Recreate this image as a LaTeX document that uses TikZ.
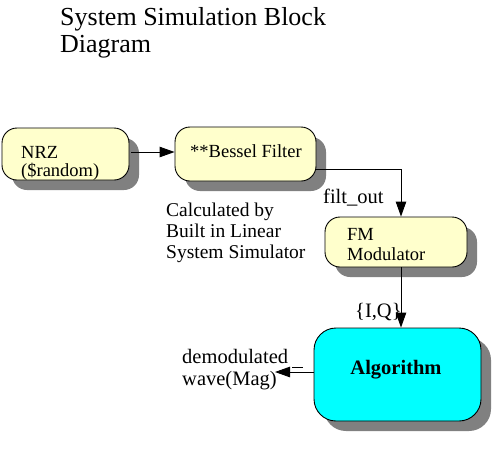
\documentclass[tikz,border=0pt]{standalone}
\usepackage{fontspec}
\setmainfont{Liberation Serif}
\newfontfamily\tms{Liberation Serif}
\usetikzlibrary{arrows.meta,shadows}
\definecolor{boxyellow}{RGB}{255,255,204}
\definecolor{boxcyan}{RGB}{0,255,255}
\definecolor{shadowgray}{RGB}{128,128,128}
\begin{document}
\begin{tikzpicture}[x=1pt,y=-1pt,
  shad/.style={drop shadow={shadow xshift=10pt,shadow yshift=-10pt,fill=shadowgray,opacity=1}},
  blk/.style={draw=black,line width=0.9pt,rounded corners=15pt,fill=boxyellow,shad,inner sep=0pt},
  algblk/.style={draw=black,line width=0.9pt,rounded corners=22pt,fill=boxcyan,shad,inner sep=0pt},
  txt/.style={anchor=base west,inner sep=0pt,font=\tms\fontsize{18.5}{20}\selectfont},
  lbl/.style={anchor=base west,inner sep=0pt,font=\tms\fontsize{20.5}{21}\selectfont},
  arr/.style={draw=black,line width=0.9pt,-{Triangle[length=15pt,width=10.5pt]}},
  conn/.style={draw=black,line width=0.9pt}]
\useasboundingbox (0,0) rectangle (497,475);
% title
\node[anchor=base west,inner sep=0pt,font=\tms\fontsize{26}{27}\selectfont] (t1) at (60,25) {System Simulation Block};
\node[anchor=base west,inner sep=0pt,font=\tms\fontsize{26}{27}\selectfont] (t2) at (60,52) {Diagram};
% boxes
\node[blk,minimum width=127pt,minimum height=52pt] (nrz) at (65.5,154) {};
\node[blk,minimum width=141pt,minimum height=54pt] (bessel) at (245.5,154) {};
\node[blk,minimum width=142pt,minimum height=50pt] (fm) at (396,242) {};
\node[algblk,minimum width=167pt,minimum height=93pt] (alg) at (397.5,374.5) {};
% box texts
\node[txt] (nrzA) at (21,158) {NRZ};
\node[txt] (nrzB) at (21,176) {(\$random)};
\node[txt] (bes) at (190,157) {**Bessel Filter};
\node[txt] (fmA) at (347,240) {FM};
\node[txt] (fmB) at (347,260) {Modulator};
\node[anchor=base,inner sep=0pt,font=\tms\fontsize{20.5}{21}\selectfont\bfseries] (algt) at (396,374) {Algorithm};
% labels
\node[anchor=base west,inner sep=0pt,font=\tms\fontsize{19.5}{21}\selectfont] (c1) at (166,216) {Calculated by};
\node[anchor=base west,inner sep=0pt,font=\tms\fontsize{19.5}{21}\selectfont] (c2) at (166,237) {Built in Linear};
\node[anchor=base west,inner sep=0pt,font=\tms\fontsize{19.5}{21}\selectfont] (c3) at (166,258) {System Simulator};
\node[lbl] (filt) at (323,203) {filt\_out};
\node[lbl] (iq) at (355,317) {\{I,Q\}};
\node[lbl] (dm1) at (182,363) {demodulated};
\node[lbl] (dm2) at (182,385) {wave(Mag)};
% connectors
\draw[arr] ([xshift=2pt,yshift=2pt]nrz.east) -- ([yshift=2pt]bessel.west);
\draw[arr] ([yshift=-15pt]bessel.east) -| ([xshift=5pt]fm.north);
\draw[arr] ([xshift=5pt]fm.south) -- ([xshift=5pt]fm.south |- alg.north);
\coordinate (dtip) at (275,372);
\draw[arr] ([yshift=2.5pt]alg.west) -- (dtip);
\coordinate (tickA) at (292,367);
\coordinate (tickB) at (303,367);
\draw[conn] (tickA) -- (tickB);
\end{tikzpicture}
\end{document}
